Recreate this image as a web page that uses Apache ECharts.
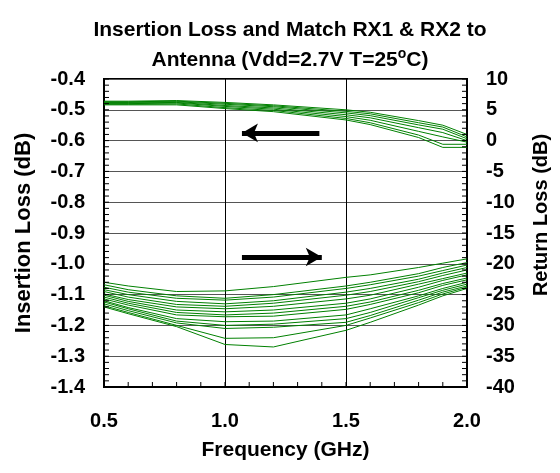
<!DOCTYPE html>
<html>
<head>
<meta charset="utf-8">
<script src="https://cdn.jsdelivr.net/npm/echarts@6/dist/echarts.min.js"></script>
<style>
    html, body { margin: 0; padding: 0; background: #fff; }
    #chart { width: 560px; height: 473px; }
</style>
</head>
<body>
<div id="chart"></div>
<script>
// frequency points (GHz)
var freq = [0.5, 0.6, 0.8, 1.0, 1.2, 1.5, 1.6, 1.8, 1.9, 2.0];

// insertion loss curves (dB), left axis
var il1 = [-0.472, -0.472, -0.470, -0.476, -0.484, -0.500, -0.508, -0.535, -0.550, -0.580];
var il2 = [-0.474, -0.474, -0.472, -0.479, -0.487, -0.505, -0.513, -0.542, -0.556, -0.588];
var il3 = [-0.476, -0.476, -0.474, -0.482, -0.490, -0.510, -0.519, -0.549, -0.563, -0.594];
var il4 = [-0.478, -0.478, -0.476, -0.486, -0.494, -0.516, -0.526, -0.558, -0.574, -0.600];
var il5 = [-0.480, -0.480, -0.478, -0.489, -0.498, -0.522, -0.534, -0.570, -0.588, -0.605];
var il6 = [-0.482, -0.482, -0.481, -0.493, -0.502, -0.528, -0.542, -0.582, -0.612, -0.612];
var il7 = [-0.484, -0.484, -0.484, -0.496, -0.506, -0.533, -0.548, -0.590, -0.622, -0.622];

// return loss curves (dB), right axis
var rlA = [-23.0, -23.6, -24.5, -24.4, -23.7, -22.2, -21.8, -20.6, -19.9, -19.2];
var rlB = [-23.4, -24.2, -25.2, -25.6, -25.0, -23.6, -23.0, -21.6, -20.6, -19.8];
var rlC = [-23.8, -24.6, -25.6, -25.9, -25.4, -24.0, -23.4, -22.0, -21.1, -20.2];
var rlD = [-24.2, -25.0, -26.1, -26.5, -26.0, -24.6, -24.0, -22.5, -21.5, -20.6];
var rlE = [-24.5, -25.4, -26.6, -26.9, -26.4, -25.1, -24.5, -22.9, -21.9, -21.0];
var rlF = [-24.9, -25.8, -27.0, -27.3, -26.9, -25.7, -25.1, -23.3, -22.4, -21.5];
var rlG = [-25.1, -26.1, -27.5, -27.8, -27.5, -26.4, -25.7, -23.8, -22.7, -21.8];
var rlH = [-25.4, -26.4, -27.9, -28.3, -28.0, -26.9, -26.2, -24.3, -23.2, -22.3];
var rlI = [-25.7, -26.7, -28.3, -28.6, -28.5, -27.4, -26.6, -24.7, -23.5, -22.6];
var rlJ = [-26.0, -27.1, -28.9, -29.4, -29.3, -28.3, -27.3, -25.2, -24.0, -23.0];
var rlK = [-26.2, -27.3, -29.3, -30.0, -29.8, -28.9, -27.9, -25.5, -24.3, -23.3];
var rlL = [-26.5, -27.6, -29.6, -30.5, -30.3, -29.5, -28.4, -25.9, -24.6, -23.6];
var rlM = [-26.8, -27.9, -30.0, -32.1, -32.0, -30.0, -28.8, -26.3, -24.9, -23.8];
var rlN = [-27.0, -28.1, -30.2, -33.1, -33.5, -30.8, -29.5, -26.7, -25.2, -24.0];

// annotation arrows: [x from, x to, y]
var ilArrow = [1.39, 1.07, -0.575];
var rlArrow = [1.07, 1.40, -18.9];

// axis ranges and steps: [min, max, major step, small tick step]
var xRange = [0.5, 2.0, 0.5, 0.1];
var ilRange = [-1.4, -0.4, 0.1, 0.02];
var rlRange = [-40, 10, 5, 1];

var ilCurves = [il1, il2, il3, il4, il5, il6, il7];
var rlCurves = [rlA, rlB, rlC, rlD, rlE, rlF, rlG, rlH, rlI, rlJ, rlK, rlL, rlM, rlN];

var green = '#008000';
var font = 'Liberation Sans, Arial, sans-serif';

function pairs(vals){
    return freq.map(function(f, i){ return [f, vals[i]]; });
}

function tickValues(r){
    var out = [];
    var n = Math.round((r[1] - r[0]) / r[3]);
    for (var i = 0; i <= n; i++) out.push(+(r[0] + i * r[3]).toFixed(4));
    return out;
}

function arrowLine(a){
    return {
        silent: true,
        symbol: ['none', 'arrow'],
        symbolSize: [14, 16],
        label: { show: false },
        lineStyle: { color: '#000', width: 5, type: 'solid' },
        emphasis: { disabled: true },
        data: [[{ coord: [a[0], a[2]] }, { coord: [a[1], a[2]] }]]
    };
}

// short inward ticks along a border, drawn through the axis scales
function ruler(yIndex, data, dx, dy){
    return {
        type: 'custom',
        yAxisIndex: yIndex,
        silent: true,
        clip: false,
        z: 5,
        data: data,
        renderItem: function(params, api){
            var p = api.coord([api.value(0), api.value(1)]);
            return {
                type: 'line',
                shape: { x1: p[0], y1: p[1], x2: p[0] + dx, y2: p[1] + dy },
                style: { stroke: '#000', lineWidth: 1 }
            };
        }
    };
}

var series = [];
ilCurves.forEach(function(c, i){
    series.push({
        type: 'line',
        yAxisIndex: 0,
        data: pairs(c),
        showSymbol: false,
        lineStyle: { color: green, width: 1 },
        markLine: i === 0 ? arrowLine(ilArrow) : undefined
    });
});
rlCurves.forEach(function(c, i){
    series.push({
        type: 'line',
        yAxisIndex: 1,
        data: pairs(c),
        showSymbol: false,
        lineStyle: { color: green, width: 1 },
        markLine: i === 0 ? arrowLine(rlArrow) : undefined
    });
});
series.push(ruler(0, tickValues(ilRange).map(function(v){ return [xRange[0], v]; }), 5, 0));
series.push(ruler(1, tickValues(rlRange).map(function(v){ return [xRange[1], v]; }), -5, 0));
series.push(ruler(0, tickValues(xRange).map(function(v){ return [v, ilRange[0]]; }), 0, -5));

var chart = echarts.init(document.getElementById('chart'));
var option = {
    animation: false,
    title: {
        text: 'Insertion Loss and Match RX1 & RX2 to\nAntenna (Vdd=2.7V T=25{sup|o}C)',
        left: 285,
        top: 10,
        textAlign: 'center',
        textStyle: {
            fontFamily: font,
            fontSize: 21,
            fontWeight: 'bold',
            color: '#000',
            lineHeight: 30,
            rich: {
                sup: { fontFamily: font, fontSize: 14, fontWeight: 'bold', color: '#000', padding: [0, 0, 12, 0] }
            }
        }
    },
    grid: {
        left: 104, right: 93, top: 79, bottom: 86,
        show: true, borderColor: '#000', borderWidth: 2
    },
    xAxis: {
        type: 'value',
        min: xRange[0], max: xRange[1], interval: xRange[2],
        name: 'Frequency (GHz)',
        nameLocation: 'middle',
        nameGap: 53,
        nameTextStyle: { fontFamily: font, fontSize: 21, fontWeight: 'bold', color: '#000' },
        axisLine: { onZero: false, lineStyle: { color: '#000', width: 2 } },
        axisTick: { show: false },
        axisLabel: {
            margin: 24,
            fontFamily: font, fontSize: 20, fontWeight: 'bold', color: '#000',
            formatter: function(v){ return v.toFixed(1); }
        },
        splitLine: { show: true, lineStyle: { color: '#000', width: 1 } }
    },
    yAxis: [{
        type: 'value',
        position: 'left',
        min: ilRange[0], max: ilRange[1], interval: ilRange[2],
        name: 'Insertion Loss (dB)',
        nameLocation: 'middle',
        nameRotate: 90,
        nameGap: 69,
        nameTextStyle: { fontFamily: font, fontSize: 22, fontWeight: 'bold', color: '#000' },
        axisLine: { show: true, onZero: false, lineStyle: { color: '#000', width: 2 } },
        axisTick: { show: false },
        axisLabel: {
            margin: 19,
            fontFamily: font, fontSize: 20, fontWeight: 'bold', color: '#000',
            formatter: function(v){ return v.toFixed(1); }
        },
        splitLine: { show: true, lineStyle: { color: '#555', width: 1.2 } }
    }, {
        type: 'value',
        position: 'right',
        min: rlRange[0], max: rlRange[1], interval: rlRange[2],
        name: 'Return Loss (dB)',
        nameLocation: 'middle',
        nameRotate: 90,
        nameGap: 64,
        nameTextStyle: { fontFamily: font, fontSize: 20, fontWeight: 'bold', color: '#000', padding: [0, 0, 0, 36] },
        axisLine: { show: true, onZero: false, lineStyle: { color: '#000', width: 2 } },
        axisTick: { show: false },
        axisLabel: { margin: 19, fontFamily: font, fontSize: 20, fontWeight: 'bold', color: '#000' },
        splitLine: { show: false }
    }],
    series: series
};
chart.setOption(option);
</script>
</body>
</html>
